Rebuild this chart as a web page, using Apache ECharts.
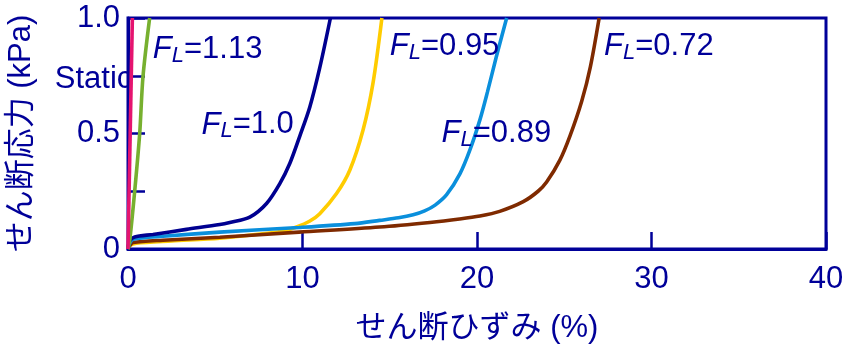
<!DOCTYPE html>
<html>
<head>
<meta charset="utf-8">
<script src="https://cdn.jsdelivr.net/npm/echarts@6/dist/echarts.min.js"></script>
<style>
  html, body { margin: 0; padding: 0; background: #fff; }
  #chart { width: 843px; height: 348px; }
</style>
</head>
<body>
<div id="chart"></div>
<script>
// Shear stress vs. shear strain curves for several liquefaction safety factors F_L
const staticX = [0, 0.25];
const staticY = [0, 1.0];

const fl113X = [0, 0.1, 0.38, 0.67, 0.86, 1.24];
const fl113Y = [0, 0.037, 0.247, 0.5, 0.747, 1.0];

const fl100X = [0, 0.1, 0.38, 1.43, 3.35, 5.26, 5.83, 6.98, 7.94, 8.7, 9.27, 9.85, 10.42, 10.99, 11.6];
const fl100Y = [0, 0.035, 0.052, 0.063, 0.085, 0.106, 0.115, 0.138, 0.197, 0.283, 0.37, 0.49, 0.615, 0.785, 1.0];

const fl095X = [0, 0.1, 0.48, 2.5, 5.26, 8.12, 9.0, 9.66, 10.4, 10.99, 11.95, 12.71, 13.47, 14.04, 14.55];
const fl095Y = [0, 0.015, 0.025, 0.035, 0.047, 0.069, 0.08, 0.095, 0.12, 0.153, 0.24, 0.341, 0.515, 0.718, 1.0];

const fl089X = [0, 0.1, 0.3, 2.0, 5.26, 9.8, 13.0, 14.42, 15.5, 16.34, 17.0, 17.6, 18.26, 19.02, 19.6, 20.17, 20.6, 21.1, 21.7];
const fl089Y = [0, 0.025, 0.042, 0.055, 0.073, 0.093, 0.11, 0.124, 0.135, 0.148, 0.165, 0.19, 0.235, 0.325, 0.43, 0.56, 0.68, 0.83, 1.0];

const fl072X = [0, 0.1, 0.3, 2.0, 5.26, 9.8, 14.42, 17.3, 19.0, 20.17, 21.3, 22.65, 23.5, 23.99, 24.75, 25.33, 26.0, 26.5, 27.0];
const fl072Y = [0, 0.015, 0.028, 0.038, 0.051, 0.073, 0.095, 0.115, 0.13, 0.143, 0.163, 0.205, 0.25, 0.29, 0.385, 0.49, 0.64, 0.79, 1.0];

// Curve annotations, anchored in data coordinates
const labelNames = ['1.13', '1.0', '0.95', '0.89', '0.72'];
const labelX = [1.42, 4.21, 15.0, 17.97, 27.28];
const labelY = [0.863, 0.537, 0.877, 0.5, 0.877];
const staticLabel = 'Static';
const staticLabelPos = [0.25, 0.733];

const xTicks = [0, 10, 20, 30, 40];
const yTickLabels = { '0': '0', '0.5': '0.5', '1': '1.0' };

const ink = '#000099';
const latin = '"Liberation Sans", Arial, "Noto Sans CJK JP", sans-serif';

function pairs(xs, ys) { return xs.map((x, i) => [x, ys[i]]); }

function curve(name, xs, ys, color) {
  return {
    name, type: 'line', data: pairs(xs, ys), smooth: 0.3,
    showSymbol: false, symbol: 'none', clip: true,
    lineStyle: { color, width: 3.6 }, z: 3
  };
}

const chart = echarts.init(document.getElementById('chart'), null, { renderer: 'canvas' });
chart.setOption({
  animation: false,
  backgroundColor: '#fff',
  grid: {
    left: 128, right: 17, top: 18, bottom: 99, containLabel: false, outerBoundsMode: 'none',
    show: true, borderColor: ink, borderWidth: 3, backgroundColor: 'transparent'
  },
  xAxis: {
    type: 'value', min: xTicks[0], max: xTicks[xTicks.length - 1], interval: 10,
    name: 'せん断ひずみ (%)', nameLocation: 'middle', nameGap: 64,
    nameTextStyle: { color: ink, fontSize: 31, fontFamily: latin },
    axisLine: { show: true, lineStyle: { color: ink, width: 3 } },
    axisTick: { show: true, inside: true, length: 17, lineStyle: { color: ink, width: 2.5 } },
    axisLabel: { color: ink, fontSize: 31, fontFamily: latin, margin: 15 },
    splitLine: { show: false }
  },
  yAxis: {
    type: 'value', min: 0, max: 1, interval: 0.25,
    name: 'せん断応力 (kPa)', nameLocation: 'middle', nameGap: 91, nameRotate: 90,
    nameTextStyle: { color: ink, fontSize: 31, fontFamily: latin },
    axisLine: { show: true, lineStyle: { color: ink, width: 3 } },
    axisTick: { show: true, inside: true, length: 17, lineStyle: { color: ink, width: 2.5 } },
    axisLabel: {
      color: ink, fontSize: 31, fontFamily: latin, margin: 8,
      formatter: v => (yTickLabels[String(v)] !== undefined ? yTickLabels[String(v)] : '')
    },
    splitLine: { show: false }
  },
  series: [
    {
      type: 'scatter', symbolSize: 0, silent: true, z: 1, itemStyle: { opacity: 1 },
      data: [staticLabelPos],
      label: { show: true, position: 'left', distance: 0, formatter: staticLabel, opacity: 1,
               color: ink, fontSize: 31, fontFamily: latin }
    },
    curve('FL=0.95', fl095X, fl095Y, '#FFCC00'),
    curve('FL=0.72', fl072X, fl072Y, '#7F2A00'),
    curve('FL=0.89', fl089X, fl089Y, '#0A8FDC'),
    curve('FL=1.0', fl100X, fl100Y, '#000090'),
    curve('FL=1.13', fl113X, fl113Y, '#77B02F'),
    curve('Static', staticX, staticY, '#E5146F'),
    {
      type: 'scatter', symbolSize: 0, silent: true, z: 5, itemStyle: { opacity: 1 },
      data: labelX.map((x, i) => ({ value: [x, labelY[i]], name: labelNames[i] })),
      label: {
        show: true, position: 'right', distance: 0, opacity: 1,
        formatter: p => '{f|F}{s|L}{n|=' + p.name + '}',
        rich: {
          f: { color: ink, fontSize: 31, fontStyle: 'italic', fontFamily: latin, lineHeight: 36 },
          s: { color: ink, fontSize: 22, fontStyle: 'italic', fontFamily: latin, padding: [12, 0, 0, 0], lineHeight: 36 },
          n: { color: ink, fontSize: 31, fontFamily: latin, lineHeight: 36 }
        }
      }
    }
  ]
});
</script>
</body>
</html>
